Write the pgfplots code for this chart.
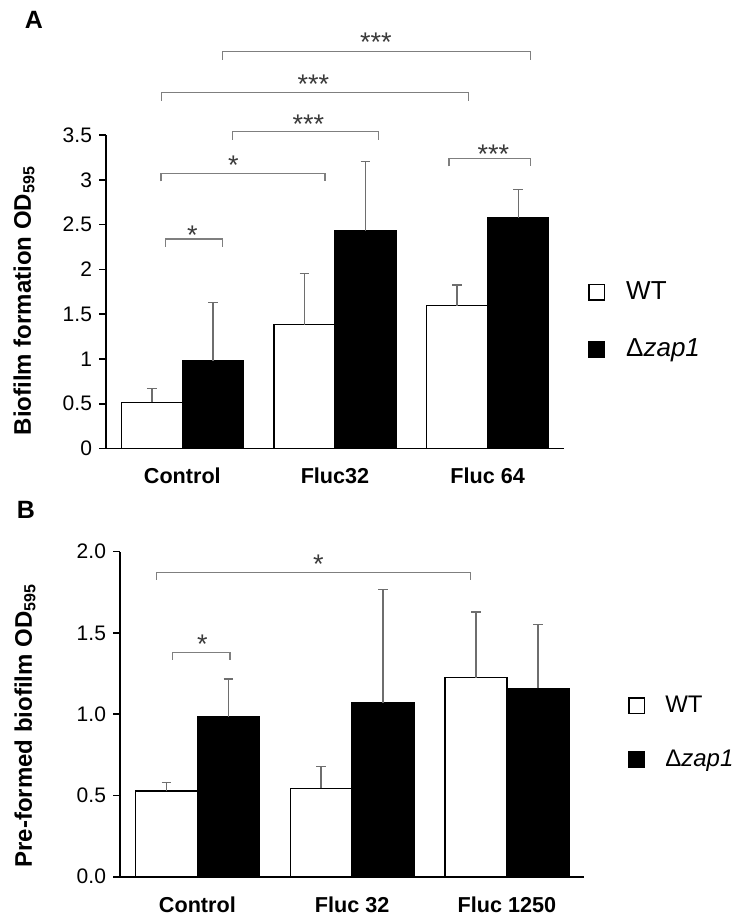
\documentclass[border=0pt]{standalone}
\usepackage{pgfplots}
\pgfplotsset{compat=1.18}
\usepackage{pgfplotstable}
\usepackage{fontspec}
\setmainfont{Liberation Sans}
\definecolor{errgray}{HTML}{6E6E6E}
\definecolor{brgray}{HTML}{7F7F7F}
\definecolor{stargray}{HTML}{3A3A3A}

\pgfplotstableread{
x y e
-0.2 0.516 0.156
0.8 1.382 0.574
1.8 1.594 0.231
}\dataAwt
\pgfplotstableread{
x y e
0.2 0.980 0.648
1.2 2.428 0.774
2.2 2.577 0.317
}\dataAzap
\pgfplotstableread{
x y e
-0.2 0.527 0.051
0.8 0.544 0.133
1.8 1.225 0.404
}\dataBwt
\pgfplotstableread{
x y e
0.2 0.985 0.232
1.2 1.071 0.698
2.2 1.159 0.392
}\dataBzap

\tikzset{
  br/.style={brgray, line width=0.65pt},
  st/.style={stargray, anchor=north, inner sep=0pt, font=\fontsize{13.5}{15}\selectfont},
}

\begin{document}
\begin{tikzpicture}
\path[use as bounding box] (0,0) rectangle (368.5pt,457pt);
\pgfplotsset{
  common/.style={
    scale only axis, clip=false,
    axis lines=left, axis line style={-, line width=0.9pt, black},
    xmin=-0.5, xmax=2.5, ymin=0,
    xtick={0,1,2}, xtick style={draw=none},
    ytick style={line width=0.8pt, black}, tick align=outside, major tick length=3.5pt,
    /pgf/number format/assume math mode=true,
    yticklabel style={font=\fontsize{10.5}{12}\selectfont},
    xticklabel style={font=\bfseries\fontsize{10.8}{12}\selectfont, yshift=-2.85pt},
    ylabel style={font=\bfseries\fontsize{12}{14}\selectfont, anchor=center, rotate=0},
    legend style={draw=none, fill=none, font=\fontsize{13}{15}\selectfont, inner sep=0pt,
      column sep=10.5pt, nodes={inner sep=0pt, anchor=west, text height=9.5pt, text depth=2.5pt}},
    legend cell align=left,
    ybar,
  },
  barbase/.style={ybar, bar width=0.4, bar shift=0pt, line width=0.7pt,
    legend image code/.code={\draw[##1, line width=0.7pt] (0pt,-3.9pt) rectangle (7.8pt,3.9pt);},
    /pgfplots/error bars/y dir=plus, /pgfplots/error bars/y explicit,
    /pgfplots/error bars/error bar style={errgray, line width=0.7pt},
    /pgfplots/error bars/error mark options={errgray, rotate=90, mark size=2.4pt, line width=0.7pt}},
  wt/.style={barbase, draw=black, fill=white},
  zp/.style={barbase, draw=black, fill=black},
}

\node[font=\bfseries\fontsize{12.5}{14}\selectfont] at (17pt,447.25pt) {A};
\node[font=\bfseries\fontsize{12.5}{14}\selectfont] at (13pt,202.25pt) {B};

% Panel A
\begin{axis}[common,
  at={(53pt,232.75pt)}, anchor=south west,
  width=229pt, height=156.75pt, ymax=3.5,
  ytick={0,0.5,1,1.5,2,2.5,3,3.5},
  xticklabels={Control,Fluc32,Fluc 64},
  ylabel={Biofilm formation OD\textsubscript{595}},
  ylabel style={at={(axis description cs:-0.179,0.472)}},
  legend style={at={(1.052,0.407)}, anchor=west, row sep=16.5pt},
]
\addplot[wt] table[x=x, y=y, y error=e] {\dataAwt};
\addlegendentry{WT}
\addplot[zp] table[x=x, y=y, y error=e] {\dataAzap};
\addlegendentry{Δ\textit{zap1}}
\draw[br] (axis cs:-0.109,2.339) ++(0pt,-4pt) |- (axis cs:0.264,2.339) -- ++(0pt,-4pt);
\draw[br] (axis cs:-0.140,3.072) ++(0pt,-4pt) |- (axis cs:0.934,3.072) -- ++(0pt,-4pt);
\draw[br] (axis cs:0.327,3.537) ++(0pt,-4pt) |- (axis cs:1.284,3.537) -- ++(0pt,-4pt);
\draw[br] (axis cs:1.747,3.240) ++(0pt,-4pt) |- (axis cs:2.279,3.240) -- ++(0pt,-4pt);
\draw[br] (axis cs:-0.135,3.972) ++(0pt,-4pt) |- (axis cs:1.876,3.972) -- ++(0pt,-4pt);
\draw[br] (axis cs:0.262,4.430) ++(0pt,-4pt) |- (axis cs:2.279,4.430) -- ++(0pt,-4pt);
\node[st] at (axis cs:0.065,2.484) {*};
\node[st] at (axis cs:0.334,3.266) {*};
\node[st] at (axis cs:0.825,3.729) {***};
\node[st] at (axis cs:2.037,3.394) {***};
\node[st] at (axis cs:0.858,4.176) {***};
\node[st] at (axis cs:1.267,4.639) {***};
\end{axis}

% Panel B
\begin{axis}[common,
  at={(60pt,18.65pt)}, anchor=south west,
  width=232.15pt, height=162.5pt, ymax=2,
  ytick={0,0.5,1,1.5,2},
  yticklabel style={/pgf/number format/fixed, /pgf/number format/fixed zerofill, /pgf/number format/precision=1},
  xticklabels={Control,Fluc 32,Fluc 1250},
  ylabel={Pre-formed biofilm OD\textsubscript{595}},
  ylabel style={at={(axis description cs:-0.2046,0.465)}},
  legend style={at={(1.094,0.443)}, anchor=west, row sep=14.75pt, font=\fontsize{12}{14}\selectfont, column sep=10pt},
]
\addplot[wt] table[x=x, y=y, y error=e] {\dataBwt};
\addlegendentry{WT}
\addplot[zp] table[x=x, y=y, y error=e] {\dataBzap};
\addlegendentry{Δ\textit{zap1}}
\draw[br] (axis cs:-0.263,1.871) ++(0pt,-3.5pt) |- (axis cs:1.766,1.871) -- ++(0pt,-3.5pt);
\draw[br] (axis cs:-0.162,1.378) ++(0pt,-3.5pt) |- (axis cs:0.211,1.378) -- ++(0pt,-3.5pt);
\node[st] at (axis cs:0.781,1.983) {*};
\node[st] at (axis cs:0.032,1.490) {*};
\end{axis}
\end{tikzpicture}
\end{document}
